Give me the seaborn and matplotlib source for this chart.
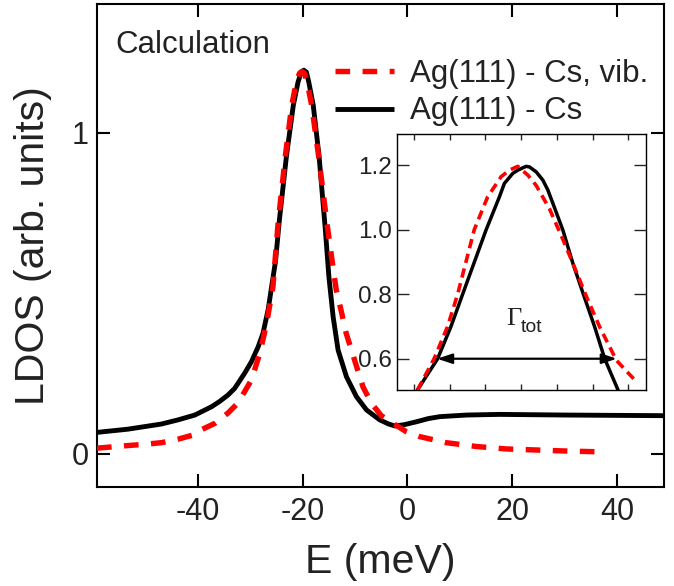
import numpy as np
import pandas as pd
import matplotlib
matplotlib.use("Agg")
import matplotlib.pyplot as plt
import seaborn as sns

# ---------------- data ----------------
energy_cs = [-59.3, -53.4, -47.0, -43.8, -40.6, -37.4, -35.9, -34.3, -33.0, -31.1,
             -29.8, -28.5, -27.6, -26.6, -26.0, -25.2, -24.5, -23.1, -21.8, -20.9,
             -20.3, -19.8, -19.3, -18.85, -18.0, -16.9, -15.7, -15.0, -14.2, -13.25,
             -11.65, -9.74, -7.83, -5.3, -3.6, -2.4, -0.6, 1.7, 4.0, 6.2,
             11.3, 17.6, 30.0, 48.9]
ldos_cs = [0.067, 0.077, 0.093, 0.106, 0.121, 0.147, 0.163, 0.183, 0.204, 0.251,
           0.287, 0.334, 0.375, 0.450, 0.515, 0.600, 0.722, 0.929, 1.085, 1.157,
           1.188, 1.194, 1.188, 1.157, 1.085, 0.929, 0.700, 0.550, 0.427, 0.323,
           0.240, 0.178, 0.137, 0.106, 0.093, 0.087, 0.091, 0.100, 0.110, 0.116,
           0.121, 0.123, 0.121, 0.119]

energy_vib = [-59.3, -53.4, -50.2, -47.0, -43.8, -40.9, -39.4, -36.8, -34.3, -32.4,
              -29.8, -28.2, -26.9, -25.7, -24.7, -23.3, -22.1, -21.2, -20.6, -20.2,
              -19.7, -19.2, -18.3, -17.0, -15.4, -14.3, -13.6, -12.6, -11.7, -9.7,
              -8.5, -6.9, -5.0, -2.75, -0.2, 2.3, 7.4, 13.2, 18.9, 24.3,
              29.7, 35.5, 37.3]
ldos_vib = [0.018, 0.026, 0.030, 0.035, 0.046, 0.059, 0.075, 0.095, 0.127, 0.158,
            0.230, 0.313, 0.406, 0.520, 0.720, 0.930, 1.085, 1.160, 1.185, 1.190,
            1.185, 1.160, 1.085, 0.930, 0.720, 0.590, 0.510, 0.441, 0.375, 0.271,
            0.209, 0.158, 0.119, 0.095, 0.069, 0.054, 0.035, 0.023, 0.0155, 0.0124,
            0.0093, 0.007, 0.0065]

inset_energy_cs = [-25.81, -24.69, -23.94, -23.28, -21.97, -21.22, -20.94, -20.47, -20.19,
                   -19.72, -19.53, -19.16, -18.78, -18.50, -18.22, -17.66, -17.10, -16.53,
                   -15.88, -15.31, -14.57]
inset_ldos_cs = [0.503, 0.599, 0.699, 0.800, 0.999, 1.102, 1.144, 1.175, 1.185,
                 1.197, 1.195, 1.180, 1.154, 1.123, 1.082, 0.999, 0.896, 0.803,
                 0.699, 0.599, 0.503]

inset_energy_vib = [-25.81, -24.88, -24.13, -23.56, -22.63, -21.88, -21.12, -20.66, -20.19,
                    -19.63, -19.16, -18.41, -17.66, -17.10, -16.34, -15.60, -14.66, -13.63]
inset_ldos_vib = [0.503, 0.600, 0.699, 0.800, 1.000, 1.102, 1.165, 1.185, 1.197,
                  1.170, 1.138, 1.065, 0.970, 0.896, 0.793, 0.699, 0.595, 0.534]

x_ticks = [-40, -20, 0, 20, 40]
y_ticks = [0, 1]
inset_x_ticks = [-26, -24, -22, -20, -18, -16, -14]
inset_y_ticks = [0.6, 0.8, 1.0, 1.2]
inset_y_labels = ["0.6", "0.8", "1.0", "1.2"]
series_labels = ["Ag(111) - Cs, vib.", "Ag(111) - Cs"]
gamma_arrow = [-24.71, -14.64, 0.6]

# ---------------- style ----------------
sns.set_theme(style="ticks")
plt.rcParams["font.family"] = ["Liberation Sans", "DejaVu Sans"]
TXT = "#222222"

fig = plt.figure(figsize=(6.74, 5.86), dpi=100)
ax = fig.add_axes([0.1439, 0.1689, 0.8413, 0.8243])

df_cs = pd.DataFrame({"E": energy_cs, "L": ldos_cs})
df_vib = pd.DataFrame({"E": energy_vib, "L": ldos_vib})

sns.lineplot(data=df_cs, x="E", y="L", ax=ax, color="black", lw=3.5,
             sort=False, zorder=2, solid_capstyle="butt", solid_joinstyle="round")
sns.lineplot(data=df_vib, x="E", y="L", ax=ax, color="#ff0000", lw=3.9,
             sort=False, zorder=3, linestyle=(0, (2.7, 2.3)), dash_capstyle="butt")

line_cs, line_vib = ax.get_lines()[0], ax.get_lines()[1]

ax.set_xlim(-59.3, 49.0)
ax.set_ylim(-0.103, 1.40)
ax.set_xticks(x_ticks)
ax.set_yticks(y_ticks)
ax.set_xticklabels([str(t) for t in x_ticks])
ax.set_yticklabels([str(t) for t in y_ticks])
ax.tick_params(direction="in", top=True, right=True, length=9.5, width=1.5,
               labelsize=22, colors="black", labelcolor=TXT)
ax.tick_params(axis="x", pad=7)
ax.tick_params(axis="y", pad=6)
for s in ax.spines.values():
    s.set_linewidth(1.5)
    s.set_color("black")
ax.set_xlabel("E (meV)", fontsize=29.5, color=TXT, labelpad=12)
ax.set_ylabel("LDOS (arb. units)", fontsize=29.5, color=TXT, labelpad=14)

ax.text(0.0317, 0.898, "Calculation", transform=ax.transAxes, fontsize=22.5,
        color=TXT, ha="left", va="baseline")

leg = ax.legend([line_vib, line_cs], series_labels, loc="upper left",
                bbox_to_anchor=(335 / 674, 1 - 59 / 586), bbox_transform=fig.transFigure,
                frameon=False, fontsize=22.5, handlelength=1.9, handletextpad=0.5,
                labelspacing=0.24, borderpad=0, borderaxespad=0)
for t in leg.get_texts():
    t.set_color(TXT)

# ---------------- inset ----------------
ax_in = fig.add_axes([0.5895, 0.3345, 0.369, 0.4372])
df_in_cs = pd.DataFrame({"E": inset_energy_cs, "L": inset_ldos_cs})
df_in_vib = pd.DataFrame({"E": inset_energy_vib, "L": inset_ldos_vib})
sns.lineplot(data=df_in_cs, x="E", y="L", ax=ax_in, color="black", lw=2.5,
             sort=False, zorder=2, solid_joinstyle="round")
sns.lineplot(data=df_in_vib, x="E", y="L", ax=ax_in, color="#ff0000", lw=2.6,
             sort=False, zorder=3, linestyle=(0, (2.6, 1.6)), dash_capstyle="butt")
ax_in.set_xlim(-26.94, -13.0)
ax_in.set_ylim(0.503, 1.298)
ax_in.set_xticks(inset_x_ticks)
ax_in.set_xticklabels([])
ax_in.set_yticks(inset_y_ticks)
ax_in.set_yticklabels(inset_y_labels)
ax_in.set_xlabel("")
ax_in.set_ylabel("")
ax_in.tick_params(direction="in", top=True, right=True, width=1.0,
                  labelsize=17.5, labelcolor=TXT)
ax_in.tick_params(axis="x", length=4.5)
ax_in.tick_params(axis="y", length=8.5, pad=4)
for s in ax_in.spines.values():
    s.set_linewidth(1.0)
    s.set_color("black")

ax_in.annotate("", xy=(gamma_arrow[0], gamma_arrow[2]), xytext=(gamma_arrow[1], gamma_arrow[2]),
               arrowprops=dict(arrowstyle="<|-|>,head_length=0.6,head_width=0.2",
                               color="black", lw=1.6, mutation_scale=15,
                               shrinkA=0, shrinkB=0), zorder=4)
ax_in.text(-20.84, 0.704, "\u0393", fontsize=19, family=["Liberation Serif", "DejaVu Serif"],
           color=TXT, ha="left", va="baseline")
ax_in.text(-20.0, 0.683, "tot", fontsize=14, color=TXT, ha="left", va="baseline")

fig.savefig("out.png", dpi=100)
